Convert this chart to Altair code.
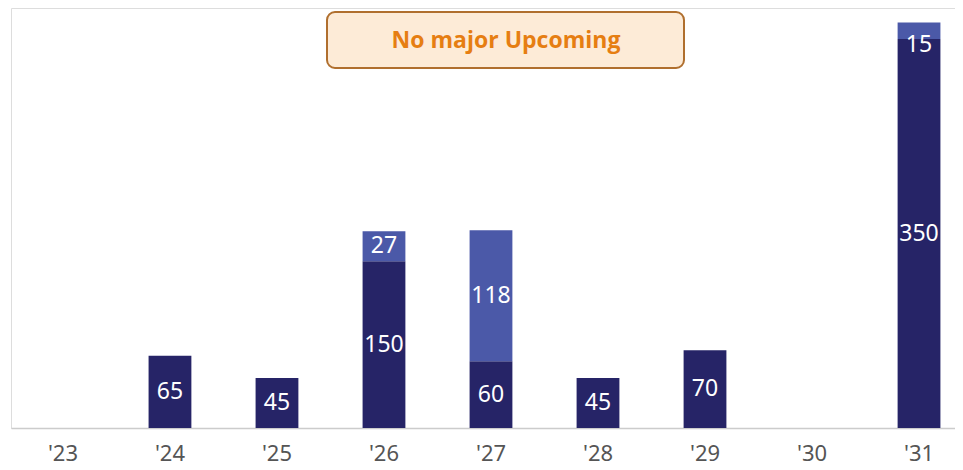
import altair as alt
import pandas as pd

years = ["'23", "'24", "'25", "'26", "'27", "'28", "'29", "'30", "'31"]
dark_values = [0, 65, 45, 150, 60, 45, 70, 0, 350]
light_values = [0, 0, 0, 27, 118, 0, 0, 0, 15]
annotation_text = "No major Upcoming"

DARK = "#262467"
LIGHT = "#4B59A8"

rows = []
for yr, d, l in zip(years, dark_values, light_values):
    start = 0
    for series, v in (("dark", d), ("light", l)):
        if v > 0:
            end = start + v
            mid = (start + end) / 2
            pos = mid if v >= 20 else end - 20
            rows.append({"year": yr, "series": series, "value": v,
                         "start": start, "end": end, "pos": pos})
            start = end
df = pd.DataFrame(rows)

x_enc = alt.X("year:N", sort=years,
              scale=alt.Scale(domain=years, paddingInner=0.6, paddingOuter=0.211, align=0.677),
              axis=alt.Axis(title=None, labelAngle=0, ticks=False, labelFontSize=22,
                            labelColor="#555555", labelFont="Noto Sans", labelPadding=15,
                            domainColor="#cccccc", domainWidth=1.5))
y_scale = alt.Scale(domain=[0, 378], nice=False, zero=True)

bars = alt.Chart(df).mark_bar().encode(
    x=x_enc,
    y=alt.Y("start:Q", scale=y_scale, axis=None),
    y2="end:Q",
    color=alt.Color("series:N", scale=alt.Scale(domain=["dark", "light"], range=[DARK, LIGHT]), legend=None),
)

labels = alt.Chart(df).mark_text(color="white", fontSize=23, font="Noto Sans", baseline="middle").encode(
    x=alt.X("year:N", sort=years),
    y=alt.Y("pos:Q", scale=y_scale),
    text="value:Q",
)

box = alt.Chart(pd.DataFrame({"t": [annotation_text]})).mark_rect(
    fill="#FDEBD7", stroke="#B06F2E", strokeWidth=2, cornerRadius=8
).encode(x=alt.value(316), x2=alt.value(673), y=alt.value(4), y2=alt.value(60))

box_text = alt.Chart(pd.DataFrame({"t": [annotation_text]})).mark_text(
    color="#E67E12", fontSize=23, fontWeight="bold", font="Open Sans", baseline="middle", align="center"
).encode(x=alt.value(495), y=alt.value(33), text="t:N")

chart = alt.layer(bars, labels, box, box_text).properties(
    width=944, height=420,
    autosize=alt.AutoSizeParams(type="none"),
    padding={"left": 3, "top": 0, "right": 0, "bottom": 42},
).configure_view(stroke=None).configure(background="white")

chart.save("out.html", embed_options={"renderer": "svg", "actions": False})
